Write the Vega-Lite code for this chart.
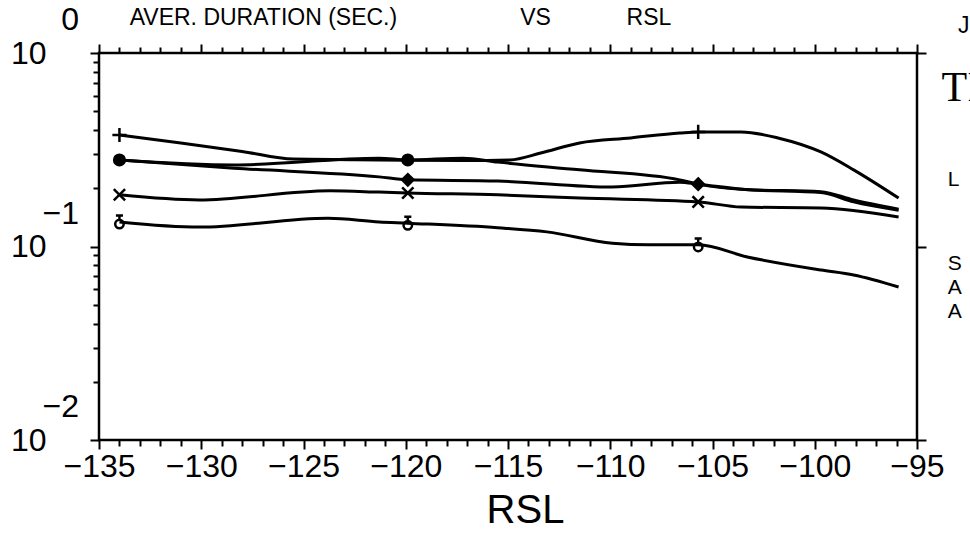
{
  "$schema": "https://vega.github.io/schema/vega-lite/v6.json",
  "width": 818,
  "height": 387,
  "autosize": {"type": "none"},
  "padding": {"left": 99, "top": 53, "right": 53, "bottom": 99},
  "background": "white",
  "config": {
    "view": {"stroke": "black", "strokeWidth": 2.5},
    "font": "Liberation Sans",
    "axis": {"domain": false, "grid": false, "tickColor": "black", "tickWidth": 2, "labelColor": "black", "titleColor": "black", "labelFont": "Liberation Sans", "titleFont": "Liberation Sans"}
  },
  "datasets": {
    "lines": [
      {"s": "plus", "x": -134.0, "y": 0.377, "m": 1},
      {"s": "plus", "x": -131.0, "y": 0.343, "m": 0},
      {"s": "plus", "x": -128.0, "y": 0.31, "m": 0},
      {"s": "plus", "x": -125.5, "y": 0.283, "m": 0},
      {"s": "plus", "x": -122.5, "y": 0.281, "m": 0},
      {"s": "plus", "x": -119.9, "y": 0.279, "m": 0},
      {"s": "plus", "x": -117.2, "y": 0.278, "m": 0},
      {"s": "plus", "x": -114.9, "y": 0.280, "m": 0},
      {"s": "plus", "x": -113.4, "y": 0.304, "m": 0},
      {"s": "plus", "x": -111.5, "y": 0.343, "m": 0},
      {"s": "plus", "x": -109.0, "y": 0.364, "m": 0},
      {"s": "plus", "x": -106.6, "y": 0.386, "m": 0},
      {"s": "plus", "x": -105.7, "y": 0.391, "m": 1},
      {"s": "plus", "x": -103.6, "y": 0.391, "m": 0},
      {"s": "plus", "x": -101.8, "y": 0.364, "m": 0},
      {"s": "plus", "x": -99.7, "y": 0.308, "m": 0},
      {"s": "plus", "x": -98.1, "y": 0.249, "m": 0},
      {"s": "plus", "x": -95.9, "y": 0.178, "m": 0},
      {"s": "dot", "x": -134.0, "y": 0.280, "m": 1},
      {"s": "dot", "x": -128.4, "y": 0.264, "m": 0},
      {"s": "dot", "x": -121.3, "y": 0.286, "m": 0},
      {"s": "dot", "x": -119.9, "y": 0.280, "m": 1},
      {"s": "dot", "x": -117.2, "y": 0.286, "m": 0},
      {"s": "dot", "x": -115.5, "y": 0.273, "m": 0},
      {"s": "dot", "x": -111.5, "y": 0.249, "m": 0},
      {"s": "dot", "x": -106.6, "y": 0.221, "m": 0},
      {"s": "dot", "x": -105.7, "y": 0.210, "m": 0},
      {"s": "dot", "x": -103.4, "y": 0.197, "m": 0},
      {"s": "dot", "x": -99.7, "y": 0.192, "m": 0},
      {"s": "dot", "x": -98.1, "y": 0.174, "m": 0},
      {"s": "dot", "x": -95.9, "y": 0.156, "m": 0},
      {"s": "diamond", "x": -134.0, "y": 0.280, "m": 0},
      {"s": "diamond", "x": -128.4, "y": 0.254, "m": 0},
      {"s": "diamond", "x": -121.3, "y": 0.229, "m": 0},
      {"s": "diamond", "x": -119.9, "y": 0.221, "m": 1},
      {"s": "diamond", "x": -115.5, "y": 0.218, "m": 0},
      {"s": "diamond", "x": -109.9, "y": 0.203, "m": 0},
      {"s": "diamond", "x": -106.6, "y": 0.215, "m": 0},
      {"s": "diamond", "x": -105.7, "y": 0.210, "m": 1},
      {"s": "diamond", "x": -103.4, "y": 0.197, "m": 0},
      {"s": "diamond", "x": -99.7, "y": 0.190, "m": 0},
      {"s": "diamond", "x": -98.1, "y": 0.170, "m": 0},
      {"s": "diamond", "x": -95.9, "y": 0.154, "m": 0},
      {"s": "x", "x": -134.0, "y": 0.185, "m": 1},
      {"s": "x", "x": -130.1, "y": 0.174, "m": 0},
      {"s": "x", "x": -123.7, "y": 0.194, "m": 0},
      {"s": "x", "x": -121.3, "y": 0.191, "m": 0},
      {"s": "x", "x": -119.9, "y": 0.189, "m": 1},
      {"s": "x", "x": -115.5, "y": 0.185, "m": 0},
      {"s": "x", "x": -111.5, "y": 0.178, "m": 0},
      {"s": "x", "x": -105.7, "y": 0.170, "m": 1},
      {"s": "x", "x": -103.6, "y": 0.160, "m": 0},
      {"s": "x", "x": -99.7, "y": 0.158, "m": 0},
      {"s": "x", "x": -95.9, "y": 0.142, "m": 0},
      {"s": "o", "x": -134.0, "y": 0.134, "m": 1},
      {"s": "o", "x": -130.1, "y": 0.126, "m": 0},
      {"s": "o", "x": -123.8, "y": 0.140, "m": 0},
      {"s": "o", "x": -121.3, "y": 0.134, "m": 0},
      {"s": "o", "x": -119.9, "y": 0.132, "m": 1},
      {"s": "o", "x": -115.5, "y": 0.125, "m": 0},
      {"s": "o", "x": -113.1, "y": 0.119, "m": 0},
      {"s": "o", "x": -109.9, "y": 0.104, "m": 0},
      {"s": "o", "x": -108.1, "y": 0.102, "m": 0},
      {"s": "o", "x": -105.7, "y": 0.102, "m": 1},
      {"s": "o", "x": -103.3, "y": 0.0883, "m": 0},
      {"s": "o", "x": -99.7, "y": 0.0756, "m": 0},
      {"s": "o", "x": -98.1, "y": 0.0713, "m": 0},
      {"s": "o", "x": -95.9, "y": 0.0618, "m": 0}
    ],
    "exps": [
      {"v": 1, "e": "0"},
      {"v": 0.1, "e": "−1"},
      {"v": 0.01, "e": "−2"}
    ],
    "title": [
      {"t": "AVER. DURATION (SEC.)", "x": -133.5, "y": 1.52},
      {"t": "VS", "x": -114.4, "y": 1.52},
      {"t": "RSL", "x": -109.2, "y": 1.52},
      {"t": "J", "x": -93.0, "y": 1.38}
    ],
    "side": [
      {"t": "L", "x": -93.5, "y": 0.221},
      {"t": "S", "x": -93.5, "y": 0.081},
      {"t": "A", "x": -93.5, "y": 0.061},
      {"t": "A", "x": -93.5, "y": 0.046}
    ],
    "serif": [
      {"t": "TI", "x": -93.8, "y": 0.66}
    ]
  },
  "resolve": {"axis": {"x": "independent", "y": "independent"}},
  "layer": [
    {
      "data": {"name": "lines"},
      "mark": {"type": "line", "color": "black", "strokeWidth": 3, "interpolate": "monotone"},
      "encoding": {
        "x": {"field": "x", "type": "quantitative",
          "scale": {"domain": [-135, -95], "nice": false, "zero": false},
          "axis": {"orient": "bottom", "title": "RSL", "titleFontSize": 40, "titleFontWeight": "normal", "titlePadding": 8, "titleX": 426,
            "values": [-135,-134,-133,-132,-131,-130,-129,-128,-127,-126,-125,-124,-123,-122,-121,-120,-119,-118,-117,-116,-115,-114,-113,-112,-111,-110,-109,-108,-107,-106,-105,-104,-103,-102,-101,-100,-99,-98,-97,-96,-95],
            "labelExpr": "datum.value % 5 == 0 ? '−' + abs(datum.value) : ''",
            "labelFontSize": 32, "labelDx": 18, "labelPadding": 2, "labelFlush": false, "labelOverlap": false,
            "tickSize": {"condition": {"test": "datum.value % 5 == 0", "value": 9}, "value": 6}}},
        "y": {"field": "y", "type": "quantitative",
          "scale": {"type": "log", "domain": [0.01, 1], "nice": false},
          "axis": {"orient": "left", "title": null,
            "values": [0.01,0.02,0.03,0.04,0.05,0.06,0.07,0.08,0.09,0.1,0.2,0.3,0.4,0.5,0.6,0.7,0.8,0.9,1],
            "labelExpr": "datum.value == 1 || datum.value == 0.1 || datum.value == 0.01 ? '10' : ''",
            "labelFontSize": 32, "labelPadding": 44, "labelBaseline": "middle", "labelOverlap": false, "labelFlush": false,
            "labelOffset": 0,
            "tickSize": {"condition": {"test": "datum.value == 1 || datum.value == 0.1 || datum.value == 0.01", "value": 9}, "value": 6}}},
        "detail": {"field": "s"}
      }
    },
    {
      "data": {"name": "lines"},
      "transform": [{"filter": "datum.m == 1"}],
      "mark": {"type": "point", "stroke": "black", "strokeWidth": 2.5, "opacity": 1, "size": 200},
      "encoding": {
        "x": {"field": "x", "type": "quantitative",
          "axis": {"orient": "top", "title": null, "labels": false,
            "values": [-135,-134,-133,-132,-131,-130,-129,-128,-127,-126,-125,-124,-123,-122,-121,-120,-119,-118,-117,-116,-115,-114,-113,-112,-111,-110,-109,-108,-107,-106,-105,-104,-103,-102,-101,-100,-99,-98,-97,-96,-95],
            "tickSize": {"condition": {"test": "datum.value % 5 == 0", "value": 9}, "value": 6}}},
        "y": {"field": "y", "type": "quantitative",
          "axis": {"orient": "right", "title": null, "labels": false, "values": [1, 0.1, 0.01], "tickSize": 9}},
        "shape": {"field": "s", "type": "nominal", "legend": null,
          "scale": {"domain": ["plus", "dot", "diamond", "x", "o"],
            "range": ["M-1,0L1,0M0,-1L0,1", "M-0.75,0A0.75,0.75 0 1 0 0.75,0A0.75,0.75 0 1 0 -0.75,0Z", "M0,-0.8L0.8,0L0,0.8L-0.8,0Z", "M-0.8,-0.8L0.8,0.8M-0.8,0.8L0.8,-0.8", "M-0.6,0.3A0.6,0.6 0 1 0 0.6,0.3A0.6,0.6 0 1 0 -0.6,0.3M0,-0.3L0,-0.9M-0.5,-0.9L0.5,-0.9"]}},
        "fill": {"field": "s", "type": "nominal", "legend": null,
          "scale": {"domain": ["plus", "dot", "diamond", "x", "o"], "range": ["transparent", "black", "black", "transparent", "transparent"]}}
      }
    },
    {
      "data": {"name": "exps"},
      "mark": {"type": "text", "fontSize": 32, "align": "right", "baseline": "middle", "dx": -20, "dy": -33, "color": "black"},
      "encoding": {
        "x": {"datum": -135, "type": "quantitative", "axis": null},
        "y": {"field": "v", "type": "quantitative", "axis": null},
        "text": {"field": "e"}
      }
    },
    {
      "data": {"name": "title"},
      "mark": {"type": "text", "fontSize": 23, "align": "left", "baseline": "middle", "color": "black"},
      "encoding": {
        "x": {"field": "x", "type": "quantitative", "axis": null},
        "y": {"field": "y", "type": "quantitative", "axis": null},
        "text": {"field": "t"}
      }
    },
    {
      "data": {"name": "side"},
      "mark": {"type": "text", "fontSize": 21, "align": "left", "baseline": "middle", "color": "black"},
      "encoding": {
        "x": {"field": "x", "type": "quantitative", "axis": null},
        "y": {"field": "y", "type": "quantitative", "axis": null},
        "text": {"field": "t"}
      }
    },
    {
      "data": {"name": "serif"},
      "mark": {"type": "text", "fontSize": 42, "align": "left", "baseline": "middle", "color": "black", "font": "Liberation Serif"},
      "encoding": {
        "x": {"field": "x", "type": "quantitative", "axis": null},
        "y": {"field": "y", "type": "quantitative", "axis": null},
        "text": {"field": "t"}
      }
    }
  ]
}
